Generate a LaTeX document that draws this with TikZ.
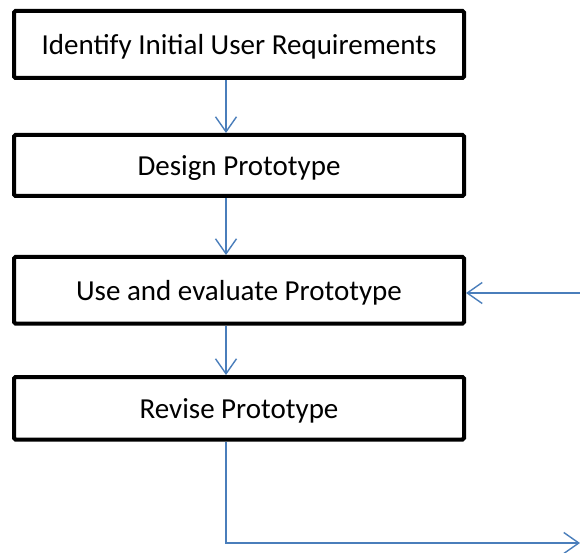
\documentclass[tikz,border=0pt]{standalone}
\usepackage{fontspec}
\setmainfont{Carlito}
\usetikzlibrary{arrows.meta}
\definecolor{lineblue}{RGB}{74,126,187}
\tikzset{
  stepbox/.style={draw=black, line width=4pt, rounded corners=1.5pt, minimum width=450pt,
    inner sep=0pt, text height=20pt, text depth=0pt, font=\fontsize{29}{34}\selectfont, fill=white},
  arr/.style={draw=lineblue, line width=1.4pt, -{Straight Barb[length=15pt,width=21pt,line width=1.4pt]}}
}
\begin{document}
\begin{tikzpicture}[x=1pt,y=1pt]
\useasboundingbox (0,0) rectangle (580,552);
\node[stepbox, minimum height=67pt] (b1) at (239,507.5) {Identify Initial User Requirements};
\node[stepbox, minimum height=61pt] (b2) at (239,386.5) {Design Prototype};
\node[stepbox, minimum height=66.5pt] (b3) at (239,261.75) {Use and evaluate Prototype};
\node[stepbox, minimum height=62.5pt] (b4) at (239,143.75) {Revise Prototype};
\coordinate (ax) at (226,0);
\coordinate (r) at (580,259);
\coordinate (e) at (580,9);
\draw[arr] (b1.south -| ax) -- (b2.north -| ax);
\draw[arr] (b2.south -| ax) -- (b3.north -| ax);
\draw[arr] (b3.south -| ax) -- (b4.north -| ax);
\draw[arr] (r) -- (r -| b3.east);
\draw[arr] (b4.south -| ax) |- (e);
\end{tikzpicture}
\end{document}
